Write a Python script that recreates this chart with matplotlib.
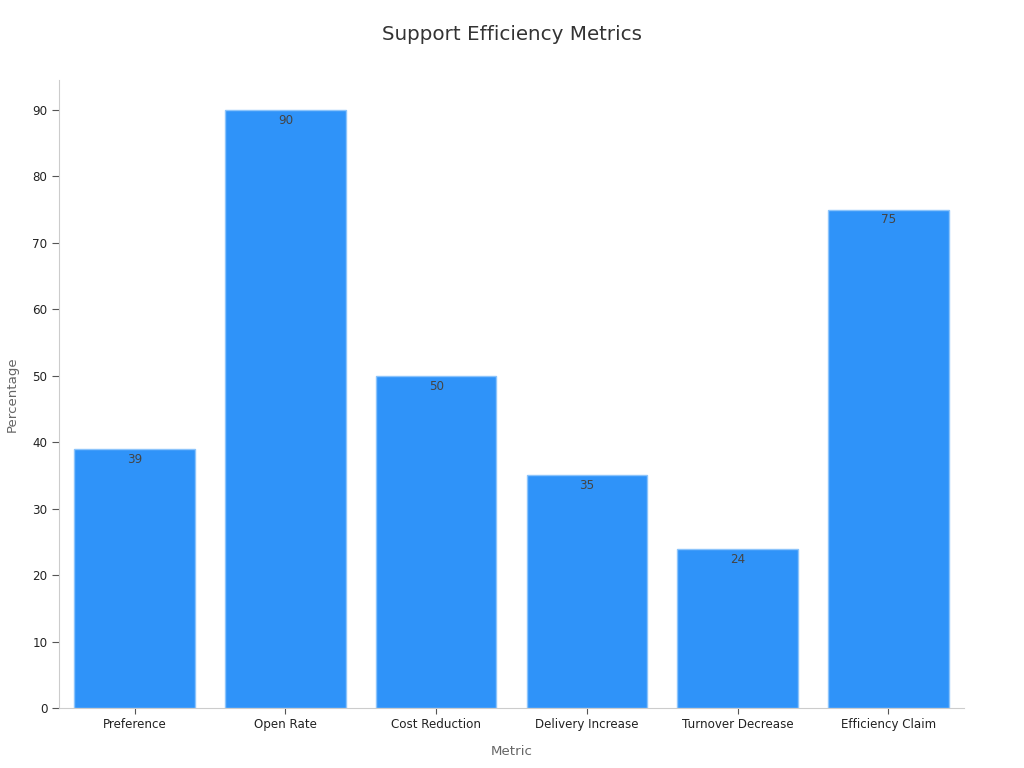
import matplotlib.pyplot as plt

# Data
metrics = ["Preference", "Open Rate", "Cost Reduction", "Delivery Increase",
           "Turnover Decrease", "Efficiency Claim"]
percentages = [39, 90, 50, 35, 24, 75]

BAR_COLOR = "#2f93f9"
EDGE_COLOR = "#8cc4fb"
SPINE_COLOR = "#cccccc"

fig, ax = plt.subplots(figsize=(10.24, 7.68), dpi=100)
fig.subplots_adjust(left=0.058, right=0.941, top=0.896, bottom=0.078)

x = range(len(metrics))
bars = ax.bar(x, percentages, width=0.8, color=BAR_COLOR,
              edgecolor=EDGE_COLOR, linewidth=1)

for bar, val in zip(bars, percentages):
    ax.text(bar.get_x() + bar.get_width() / 2, bar.get_height() - 0.6,
            f"{val}", ha="center", va="top", fontsize=8.6, color="#444444")

ax.set_xticks(list(x))
ax.set_xticklabels(metrics, fontsize=8.6, color="#222222")
ax.set_xlim(-0.5, len(metrics) - 0.5)
ax.set_ylim(0, 94.5)
ax.set_yticks(range(0, 91, 10))
ax.tick_params(axis="y", labelsize=8.6, labelcolor="#222222", color="#555555", length=5)
ax.tick_params(axis="x", color="#555555", length=4, pad=3)

ax.set_xlabel("Metric", fontsize=9.6, color="#666666", labelpad=10)
ax.set_ylabel("Percentage", fontsize=9.6, color="#666666", labelpad=10)
fig.suptitle("Support Efficiency Metrics", fontsize=14.3, color="#333333", y=0.968)

for side in ["top", "right"]:
    ax.spines[side].set_visible(False)
for side in ["left", "bottom"]:
    ax.spines[side].set_color(SPINE_COLOR)

fig.savefig("out.png", dpi=100)
